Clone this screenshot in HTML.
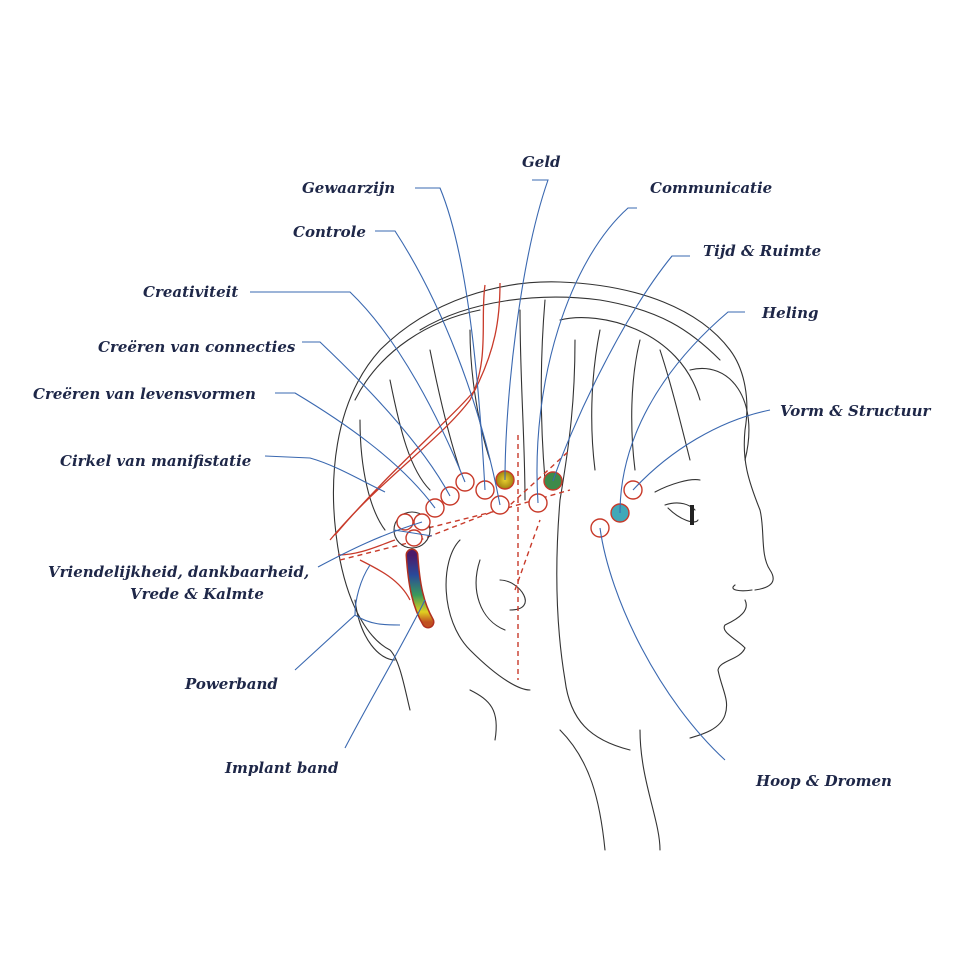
<!DOCTYPE html>
<html><head><meta charset="utf-8"><style>
html,body{margin:0;padding:0;background:#fff;}
svg{display:block}
text{font-family:"DejaVu Serif","Liberation Serif",serif;font-style:italic;font-weight:bold;font-size:15px;fill:#1e2748;}
.s{fill:none;stroke:#333;stroke-width:1.1;stroke-linecap:round}
.b{fill:none;stroke:#3a68b0;stroke-width:1.1}
.r{fill:none;stroke:#c83a2a;stroke-width:1.3}
.rd{fill:none;stroke:#c83a2a;stroke-width:1.4;stroke-dasharray:5 4}
.c{fill:#fff;stroke:#c83a2a;stroke-width:1.4}
</style></head><body>
<svg width="975" height="975" viewBox="0 0 975 975" xmlns="http://www.w3.org/2000/svg">
<defs>
<linearGradient id="g" x1="0" y1="0" x2="0" y2="1">
<stop offset="0" stop-color="#4a1a6a"/><stop offset="0.3" stop-color="#2a4a9a"/><stop offset="0.6" stop-color="#3a9a5a"/><stop offset="0.85" stop-color="#e0d020"/><stop offset="1" stop-color="#c05020"/></linearGradient>
<radialGradient id="y"><stop offset="0" stop-color="#e8d030"/><stop offset="1" stop-color="#a08010"/></radialGradient>
</defs>
<path class="s" d="M340,560 C325,480 335,400 380,350 C430,300 500,280 560,282 C640,285 700,310 730,350 C745,370 750,400 745,430"/>
<path class="s" d="M355,400 C380,350 430,320 480,310 M420,330 C470,300 540,292 600,300 M600,300 C660,310 690,330 720,360"/>
<path class="s" d="M560,320 C600,310 680,330 700,400 M690,370 C730,360 760,400 745,460"/>
<path class="s" d="M745,430 C742,460 748,480 760,510 C765,530 760,555 770,570 C778,582 770,588 755,590 M735,585 C728,590 740,592 752,590"/>
<path class="s" d="M745,600 C750,610 740,618 725,625 C720,632 738,640 745,648 C740,660 720,660 718,670 C722,690 730,700 725,715 C720,730 700,735 690,738"/>
<path class="s" d="M640,730 C640,780 660,820 660,850 M605,850 C600,800 590,760 560,730"/>
<path class="s" d="M665,505 C680,500 690,505 695,510 M668,508 C680,520 695,525 698,520"/>
<path stroke="#222" stroke-width="4" d="M692,505 L692,525"/>
<path class="s" d="M655,492 C670,484 690,478 700,480"/>
<path class="s" d="M460,540 C440,560 440,620 470,650 C500,680 520,690 530,690 M480,560 C470,590 480,620 505,630 M500,580 C520,580 540,610 510,610"/>
<path class="s" d="M520,310 C520,380 525,440 525,500 M545,300 C540,360 540,420 545,480 M600,330 C590,380 590,430 595,470 M640,340 C630,380 630,430 635,470 M660,350 C670,380 680,420 690,460 M575,340 C575,400 570,440 560,500"/>
<path class="s" d="M390,380 C400,430 410,470 430,490 M430,350 C440,400 450,440 460,470 M470,330 C470,380 480,430 490,460 M360,420 C360,470 370,510 385,530"/>
<path class="s" d="M560,500 C555,560 555,620 565,680 C570,720 590,740 630,750"/>
<path class="s" d="M340,560 C350,610 370,640 390,650 C400,660 405,690 410,710 M355,600 C360,640 380,660 395,660"/>
<path class="s" d="M470,690 C490,700 500,710 495,740"/>
<path class="r" d="M330,540 C380,480 440,440 470,400 C490,360 480,320 485,285"/>
<path class="r" d="M335,535 C390,470 450,420 475,390 C495,350 500,320 500,283"/>
<path class="r" d="M338,555 C360,555 380,545 395,540 M360,560 C380,570 400,580 410,600"/>
<path class="rd" d="M518,435 L518,680"/>
<path class="rd" d="M340,560 L420,540 L510,505 L570,450"/>
<path class="rd" d="M420,530 L500,510 L570,490"/>
<path class="rd" d="M515,590 L540,520"/>
<path d="M412,555 C414,585 418,605 428,622" stroke="#b03020" stroke-width="13" fill="none" stroke-linecap="round"/>
<path d="M412,555 C414,585 418,605 428,622" stroke="url(#g)" stroke-width="10" fill="none" stroke-linecap="round"/>
<circle cx="412" cy="530" r="18" fill="none" stroke="#333" stroke-width="1.1"/>
<circle class="c" cx="405" cy="522" r="8"/><circle class="c" cx="422" cy="522" r="8"/><circle class="c" cx="414" cy="538" r="8"/>
<circle class="c" cx="435" cy="508" r="9"/><circle class="c" cx="450" cy="496" r="9"/><circle class="c" cx="465" cy="482" r="9"/>
<circle class="c" cx="485" cy="490" r="9"/><circle class="c" cx="500" cy="505" r="9"/>
<circle cx="505" cy="480" r="9" fill="url(#y)" stroke="#c83a2a" stroke-width="1.4"/>
<circle class="c" cx="538" cy="503" r="9"/>
<circle cx="553" cy="481" r="9" fill="#3e8a4a" stroke="#c83a2a" stroke-width="1.4"/>
<circle class="c" cx="633" cy="490" r="9"/>
<circle cx="620" cy="513" r="9" fill="#40a8b8" stroke="#c83a2a" stroke-width="1.4"/>
<circle class="c" cx="600" cy="528" r="9"/>
<path class="b" d="M415,188 L440,188 C470,260 480,400 485,490"/>
<path class="b" d="M532,180 L548,180 C520,260 505,400 505,480"/>
<path class="b" d="M637,208 L628,208 C570,260 530,380 538,503"/>
<path class="b" d="M690,256 L672,256 C620,320 570,430 553,481"/>
<path class="b" d="M745,312 L728,312 C660,370 620,440 620,513"/>
<path class="b" d="M770,410 C720,420 670,450 633,490"/>
<path class="b" d="M375,231 L395,231 C440,300 480,400 500,505"/>
<path class="b" d="M250,292 L350,292 C400,340 440,420 465,482"/>
<path class="b" d="M302,342 L320,342 C360,380 420,440 450,496"/>
<path class="b" d="M275,393 L295,393 C340,420 400,460 435,508"/>
<path class="b" d="M265,456 L310,458 C335,465 360,480 385,492"/>
<path class="b" d="M318,567 C350,550 380,535 422,522 M394,530 L432,536"/>
<path class="b" d="M295,670 L355,615 C355,600 360,580 370,565 M355,615 C370,625 385,625 400,625"/>
<path class="b" d="M345,748 C370,700 400,650 425,600"/>
<path class="b" d="M725,760 C660,700 610,600 600,528"/>
<text x="302" y="193">Gewaarzijn</text>
<text x="522" y="167">Geld</text>
<text x="650" y="193">Communicatie</text>
<text x="703" y="256">Tijd &amp; Ruimte</text>
<text x="762" y="318">Heling</text>
<text x="780" y="416">Vorm &amp; Structuur</text>
<text x="293" y="237">Controle</text>
<text x="143" y="297">Creativiteit</text>
<text x="98" y="352">Creëren van connecties</text>
<text x="33" y="399">Creëren van levensvormen</text>
<text x="60" y="466">Cirkel van manifistatie</text>
<text x="48" y="577">Vriendelijkheid, dankbaarheid,</text>
<text x="130" y="599">Vrede &amp; Kalmte</text>
<text x="185" y="689">Powerband</text>
<text x="225" y="773">Implant band</text>
<text x="756" y="786">Hoop &amp; Dromen</text>
</svg>
</body></html>
